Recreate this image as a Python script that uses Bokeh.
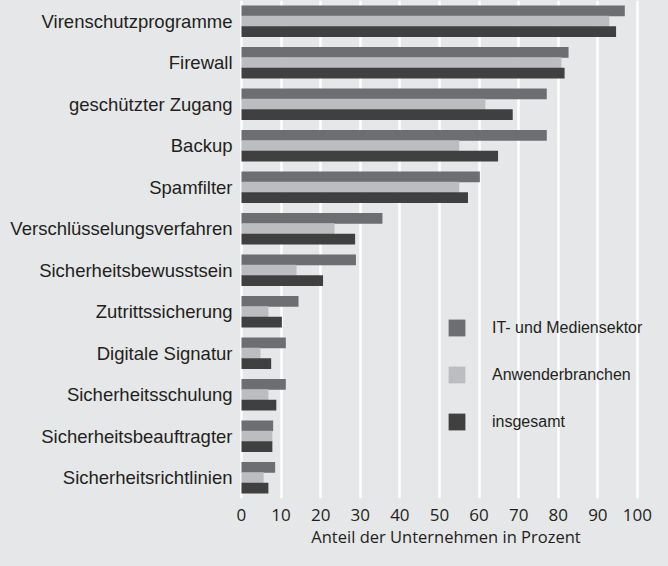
from bokeh.plotting import figure
from bokeh.models import ColumnDataSource, FixedTicker, Range1d, Legend, LegendItem
from bokeh.transform import dodge
from bokeh.embed import file_html
from bokeh.resources import INLINE

categories = ["Virenschutzprogramme", "Firewall", "geschützter Zugang", "Backup",
              "Spamfilter", "Verschlüsselungsverfahren", "Sicherheitsbewusstsein",
              "Zutrittssicherung", "Digitale Signatur", "Sicherheitsschulung",
              "Sicherheitsbeauftragter", "Sicherheitsrichtlinien"]
it_medien = [96.8, 82.6, 77.1, 77.1, 60.2, 35.6, 28.9, 14.4, 11.2, 11.2, 8.0, 8.5]
anwender = [92.9, 80.8, 61.6, 55.0, 55.0, 23.5, 13.9, 6.8, 4.8, 6.8, 7.8, 5.6]
insgesamt = [94.6, 81.6, 68.5, 64.8, 57.2, 28.7, 20.6, 10.2, 7.5, 8.8, 7.8, 6.8]
series_names = ["IT- und Mediensektor", "Anwenderbranchen", "insgesamt"]
x_ticks = [0, 10, 20, 30, 40, 50, 60, 70, 80, 90, 100]

BG = "#e6e7e8"
COLORS = ["#6d6e71", "#bcbdc0", "#404041"]
TEXT = "#231f20"

src = ColumnDataSource(dict(cat=categories, it=it_medien, an=anwender, ins=insgesamt))

p = figure(width=652, height=550, y_range=list(reversed(categories)),
           x_range=Range1d(-0.5, 103.8), output_backend="svg", toolbar_location=None,
           min_border_left=239, min_border_right=0, min_border_top=0, min_border_bottom=42)
p.background_fill_color = BG
p.border_fill_color = BG
p.outline_line_color = None

r1 = p.hbar(y=dodge("cat", 0.25, range=p.y_range), right="it", left=0, height=0.265,
            source=src, color=COLORS[0], line_color=None)
r2 = p.hbar(y=dodge("cat", 0.0, range=p.y_range), right="an", left=0, height=0.265,
            source=src, color=COLORS[1], line_color=None)
r3 = p.hbar(y=dodge("cat", -0.25, range=p.y_range), right="ins", left=0, height=0.265,
            source=src, color=COLORS[2], line_color=None)

p.ygrid.grid_line_color = None
p.xgrid.grid_line_color = "white"
p.xgrid.grid_line_width = 2.5
p.xaxis.ticker = FixedTicker(ticks=x_ticks)

for ax in (p.xaxis[0], p.yaxis[0]):
    ax.axis_line_color = None
    ax.major_tick_line_color = None
    ax.minor_tick_line_color = None
    ax.major_tick_out = 0
    ax.major_tick_in = 0
    ax.major_label_text_color = TEXT

p.yaxis.major_label_text_font = "Liberation Sans"
p.yaxis.major_label_text_font_size = "18.5px"
p.yaxis.major_label_standoff = 7

p.xaxis.major_label_text_font = "Open Sans"
p.xaxis.major_label_text_font_size = "17px"
p.xaxis.major_label_standoff = 10
p.xaxis.axis_label = "Anteil der Unternehmen in Prozent"
p.xaxis.axis_label_text_font = "Open Sans"
p.xaxis.axis_label_text_font_size = "16.5px"
p.xaxis.axis_label_text_font_style = "normal"
p.xaxis.axis_label_text_color = TEXT
p.xaxis.axis_label_standoff = 1

legend = Legend(items=[LegendItem(label=series_names[0], renderers=[r1]),
                       LegendItem(label=series_names[1], renderers=[r2]),
                       LegendItem(label=series_names[2], renderers=[r3])],
                location=(207, 66), orientation="vertical")
legend.glyph_width = 21
legend.glyph_height = 21
legend.label_height = 21
legend.spacing = 26
legend.label_standoff = 25
legend.padding = 0
legend.margin = 0
legend.border_line_color = None
legend.background_fill_alpha = 0
legend.label_text_font = "Liberation Sans"
legend.label_text_font_size = "16px"
legend.label_text_color = TEXT
p.add_layout(legend)

html = file_html(p, INLINE)
html = html.replace("</head>", "<style>html, body { background-color: #e6e7e8; }</style>\n</head>", 1)
open("out.html", "w").write(html)
